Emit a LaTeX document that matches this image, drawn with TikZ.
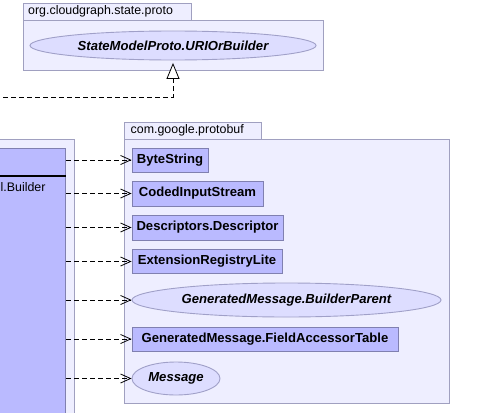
\documentclass[tikz,border=0pt]{standalone}
\usepackage{fontspec}
\setmainfont{Liberation Sans}
\usetikzlibrary{arrows.meta,shapes.geometric}
\definecolor{pkgfill}{RGB}{238,238,255}
\definecolor{pkgline}{RGB}{160,160,192}
\definecolor{clsfill}{RGB}{186,186,255}
\definecolor{clsline}{RGB}{128,128,176}
\definecolor{ellfill}{RGB}{221,221,255}
\definecolor{ellline}{RGB}{160,160,200}
\tikzset{
  pkg/.style={draw=pkgline, fill=pkgfill, line width=0.9pt},
  pkglabel/.style={anchor=west, inner sep=0pt, font=\fontsize{12.4}{14}\selectfont},
  cls/.style={draw=clsline, fill=clsfill, line width=0.9pt, inner sep=0pt, font=\fontsize{13.1}{15}\selectfont\bfseries},
  iface/.style={ellipse, draw=ellline, fill=ellfill, line width=0.9pt, inner sep=0pt, font=\fontsize{13.1}{15}\selectfont\bfseries\itshape},
  dep/.style={dashed, dash pattern=on 5pt off 3pt, line width=0.8pt, -{Straight Barb[length=10pt,width=9pt]}},
  real/.style={dashed, dash pattern=on 5pt off 3pt, line width=0.8pt, -{Triangle[open,length=16pt,width=13pt,fill=white]}, shorten >=2.5pt}
}
\begin{document}
\begin{tikzpicture}[x=1pt,y=-1pt]
\useasboundingbox (0,0) rectangle (489,412);
\begin{scope}
\clip (0,0) rectangle (489,412);
% top package
\draw[pkg] (23,3) rectangle (191,20);
\draw[pkg] (23,20) rectangle (323,70);
\node[pkglabel] (toplab) at (28,11.5) {org.cloudgraph.state.proto};
\node[iface, minimum width=286pt, minimum height=29pt] (state) at (173,45.5) {StateModelProto.URIOrBuilder};
% left package and class
\draw[pkg] (-10,139) rectangle (74,430);
\node[draw=clsline, fill=clsfill, line width=0.9pt, minimum width=80pt, minimum height=290pt, anchor=north east, inner sep=0pt] (impl) at (66,148) {};
\draw[line width=2pt] (-2,176) -- (66,176);
\node[pkglabel] (impllab) at (0.5,187) {l.Builder};
% right package
\draw[pkg] (124,122) rectangle (261,139);
\draw[pkg] (124,139) rectangle (449,403);
\node[pkglabel] (rightlab) at (130.5,130.5) {com.google.protobuf};
\node[cls, minimum width=76pt, minimum height=24pt] (bs) at (170,160) {ByteString};
\node[cls, minimum width=131pt, minimum height=25pt] (cis) at (197.5,193.5) {CodedInputStream};
\node[cls, minimum width=151pt, minimum height=25pt] (dd) at (207.5,227.5) {Descriptors.Descriptor};
\node[cls, minimum width=150pt, minimum height=24pt] (erl) at (207,261.5) {ExtensionRegistryLite};
\node[iface, minimum width=309pt, minimum height=34pt] (gmbp) at (286.5,300) {GeneratedMessage.BuilderParent};
\node[cls, minimum width=266pt, minimum height=24pt] (gmfat) at (265,339) {GeneratedMessage.FieldAccessorTable};
\node[iface, minimum width=88pt, minimum height=33pt] (msg) at (176,378.5) {Message};
% connectors
\foreach \t in {bs,cis,dd,erl,gmbp,gmfat,msg}{
  \draw[dep] (impl.east |- \t.west) -- (\t.west);
}
\coordinate (c0) at (-5,97);
\draw[real] (c0) -| (state.south);
\end{scope}
\end{tikzpicture}
\end{document}
